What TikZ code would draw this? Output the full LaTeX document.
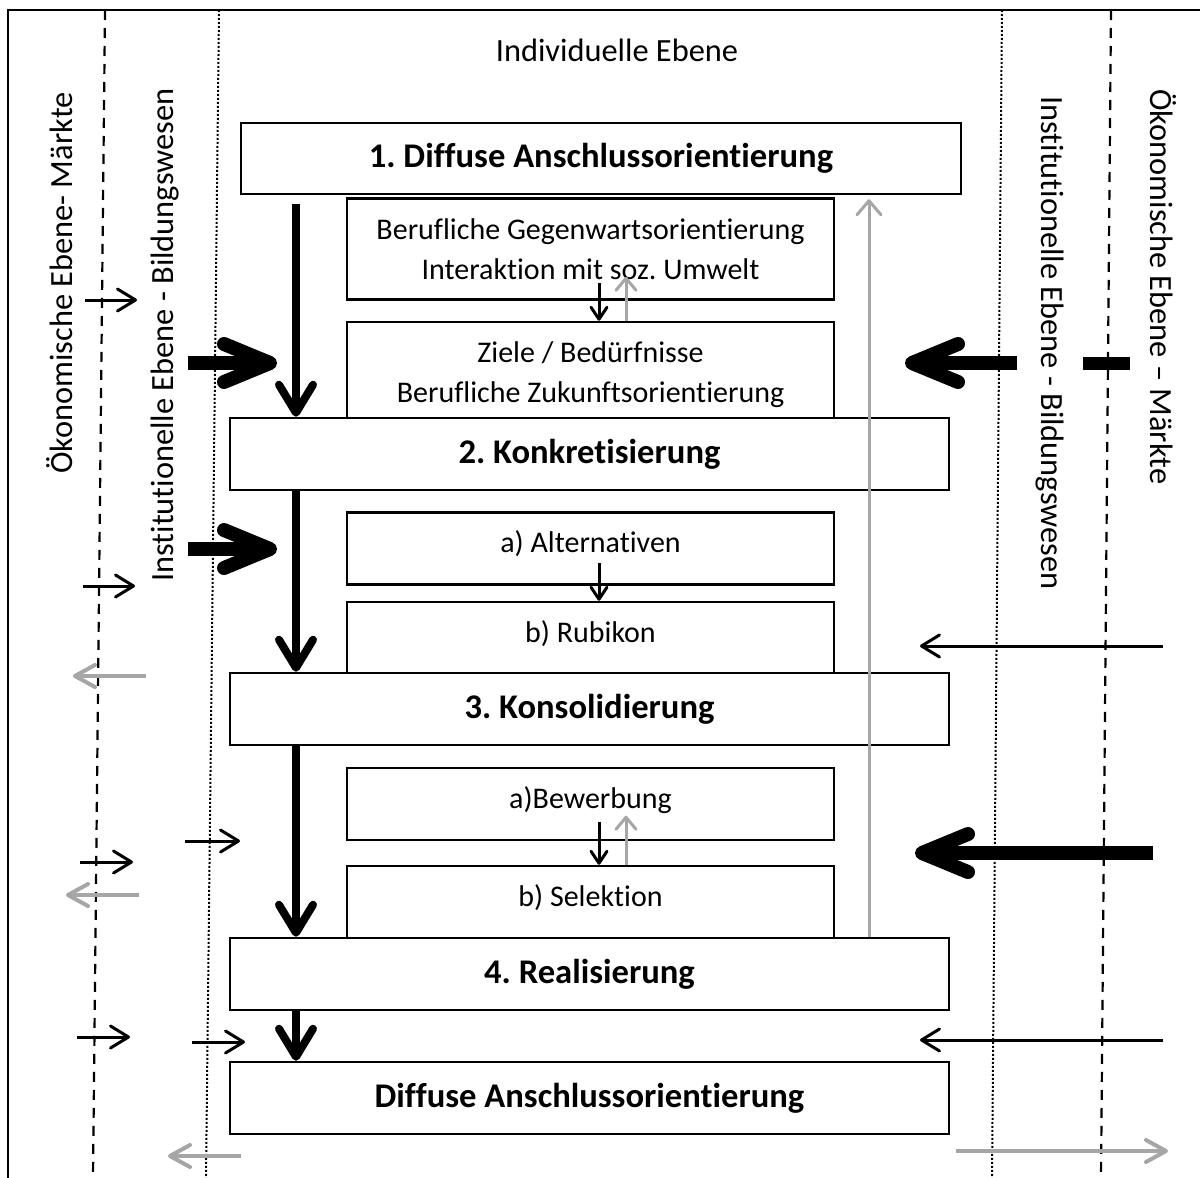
\documentclass[tikz,border=0pt]{standalone}
\usepackage{fontspec}
\setmainfont{Carlito}[Ligatures=NoCommon]
\usetikzlibrary{arrows.meta,calc}
\definecolor{arrowgray}{RGB}{166,166,166}
\frenchspacing
\begin{document}
\begin{tikzpicture}[x=0.5pt,y=-0.5pt,
  every node/.style={font=\fontsize{15}{20}\selectfont},
  levellabel/.style={font=\fontsize{16.2}{20}\selectfont},
  stage/.style={draw,line width=1.25pt,fill=white,inner sep=0pt,
    minimum width=359.5pt,minimum height=36pt,
    font=\fontsize{17.3}{20}\selectfont\bfseries},
  substep/.style={draw,line width=1.25pt,fill=white,inner sep=0pt,
    minimum width=243.5pt,align=center},
  substepone/.style={substep,minimum height=36pt,text height=10pt,text depth=6pt},
  ecoline/.style={line width=1.1pt,dash pattern=on 5pt off 4pt},
  instline/.style={line width=1pt,dash pattern=on 1pt off 1pt},
  mainarr/.style={line width=4pt,-{Straight Barb[length=14pt,width=17pt,round]}},
  thickarr/.style={line width=7pt,-{Straight Barb[length=23pt,width=19pt,round]}},
  thinarr/.style={line width=1.5pt,-{Straight Barb[length=9pt,width=11pt,round]}},
  grayarr/.style={arrowgray,line width=2pt,-{Straight Barb[length=10pt,width=11pt,round]}},
  feedback/.style={arrowgray,line width=1.5pt,-{Straight Barb[length=7pt,width=12pt,round]}},
  smallblk/.style={line width=1.5pt,-{Straight Barb[length=6pt,width=8pt,round]}},
  smallgray/.style={arrowgray,line width=1.5pt,-{Straight Barb[length=6pt,width=10pt,round]}}
]
\useasboundingbox (0,0) rectangle (1200,1178);

% frame and level boundaries
\draw[line width=1pt] (8,1178) -- (8,10) -- (1200,10);
\draw[ecoline] (105,10) -- (93,1178);
\draw[instline] (219,10) -- (206,1178);
\draw[instline] (1002,10) -- (992,1178);
\draw[ecoline] (1111,10) -- (1101,1178);

% level labels
\node[levellabel] (indiv) at (617,50) {Individuelle Ebene};
\node[levellabel,rotate=90] (ecoL) at (60,283) {Ökonomische Ebene- Märkte};
\node[levellabel,rotate=90] (instL) at (165,335) {Institutionelle Ebene - Bildungswesen};
\node[levellabel,rotate=-90] (instR) at (1050,343) {Institutionelle Ebene - Bildungswesen};
\node[levellabel,rotate=-90] (ecoR) at (1163,287) {Ökonomische Ebene – Märkte};

% sub steps (lower edges of some run under the next stage box)
\node[substep,minimum height=50.5pt] (orient) at (590.5,249)
  {Berufliche Gegenwartsorientierung\\Interaktion mit soz. Umwelt};
\node[substep,minimum height=53pt] (goals) at (590.5,375)
  {Ziele / Bedürfnisse\\Berufliche Zukunftsorientierung};
\node[substepone] (altern) at (590.5,548.5) {a) Alternativen};
\node[substepone] (rubikon) at (590.5,638) {b) Rubikon};
\node[substepone] (apply) at (590.5,804) {a)Bewerbung};
\node[substepone] (select) at (590.5,902) {b) Selektion};

% main stages
\node[stage,minimum width=360pt,minimum height=35.5pt] (s1) at (601,158.5) {1. Diffuse Anschlussorientierung};
\node[stage] (s2) at (589.5,454) {2. Konkretisierung};
\node[stage] (s3) at (589.5,709) {3. Konsolidierung};
\node[stage] (s4) at (589.5,974) {4. Realisierung};
\node[stage] (s5) at (589.5,1098) {Diffuse Anschlussorientierung};

% main flow
\coordinate (spine) at (296,0);
\draw[mainarr] ($(s1.south -| spine)+(0,9)$) -- (s2.north -| spine);
\draw[mainarr] (s2.south -| spine) -- (s3.north -| spine);
\draw[mainarr] (s3.south -| spine) -- (s4.north -| spine);
\draw[mainarr] (s4.south -| spine) -- (s5.north -| spine);

% feedback line
\coordinate (fb) at (869,0);
\draw[feedback] (s4.north -| fb) -- ($(s1.south -| fb)+(0,4)$);

% arrows between sub steps
\coordinate (dn) at (599,0);
\coordinate (up) at (626,0);
\draw[smallblk] ($(goals.north -| dn)+(0,-38)$) -- (goals.north -| dn);
\draw[smallgray] (goals.north -| up) -- ($(goals.north -| up)+(0,-44)$);
\draw[smallblk] ($(rubikon.north -| dn)+(0,-38)$) -- (rubikon.north -| dn);
\draw[smallblk] ($(select.north -| dn)+(0,-43)$) -- (select.north -| dn);
\draw[smallgray] (select.north -| up) -- ($(select.north -| up)+(0,-49)$);

% influences from the left
\draw[thinarr] (85,300) -- (137,300);
\draw[thickarr] (188,363) -- (277,363);
\draw[thickarr] (188,549) -- (277,549);
\draw[thinarr] (83,586) -- (135,586);
\draw[grayarr] (146,676) -- (73,676);
\draw[thinarr] (185,841) -- (240,841);
\draw[thinarr] (80,862) -- (133,862);
\draw[grayarr] (139,895) -- (66,895);
\draw[thinarr] (77,1037) -- (130,1037);
\draw[thinarr] (192,1042) -- (245,1042);
\draw[grayarr] (241,1156) -- (168,1156);

% influences from the right
\draw[line width=6.5pt] (1083,363) -- (1130,363);
\draw[thickarr] (1017,363) -- (905,363);
\draw[thinarr] (1163,646) -- (920,646);
\draw[thickarr] (1153,853) -- (915,853);
\draw[thinarr] (1163,1040) -- (920,1040);
\draw[grayarr] (956,1151) -- (1168,1151);
\end{tikzpicture}
\end{document}
